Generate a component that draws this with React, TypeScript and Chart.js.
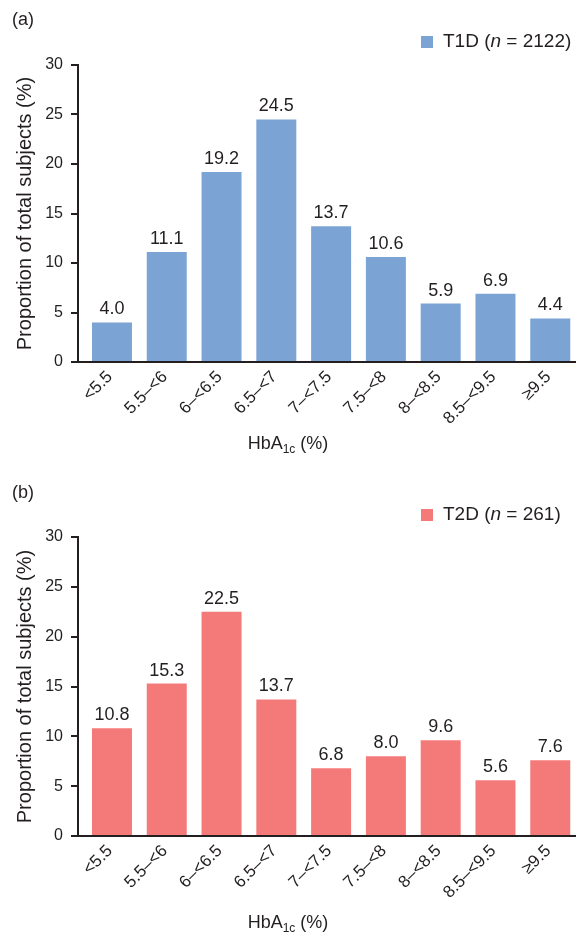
import React, { useEffect, useRef } from "react";
import { Chart, registerables } from "chart.js";

Chart.register(...registerables);

// ---- Data ----
const categories = ["<5.5", "5.5–<6", "6–<6.5", "6.5–<7", "7–<7.5", "7.5–<8", "8–<8.5", "8.5–<9.5", "≥9.5"];
const t1dValues = [4.0, 11.1, 19.2, 24.5, 13.7, 10.6, 5.9, 6.9, 4.4];
const t2dValues = [10.8, 15.3, 22.5, 13.7, 6.8, 8.0, 9.6, 5.6, 7.6];
const yTickValues = [0, 5, 10, 15, 20, 25, 30];
const t1dLegendParts = ["T1D (", "n", " = 2122)"];
const t2dLegendParts = ["T2D (", "n", " = 261)"];
const panelLetters = ["(a)", "(b)"];
const yAxisTitle = "Proportion of total subjects (%)";
const xAxisTitleParts = ["HbA", "1c", " (%)"];

// ---- Styles ----
const FONT = "'Liberation Sans', Arial, Helvetica, sans-serif";
const TEXT = "#231f20";
const BLUE = "#7ba4d4";
const RED = "#f47a7a";

const decorPlugin = {
  id: "decor",
  afterDraw(chart: any, _args: any, opts: any) {
    const { ctx, chartArea } = chart;
    ctx.save();
    ctx.fillStyle = TEXT;
    // value labels above bars
    ctx.font = `18px ${FONT}`;
    ctx.textAlign = "center";
    ctx.textBaseline = "alphabetic";
    const meta = chart.getDatasetMeta(0);
    const pts = chart.data.datasets[0].data as any[];
    meta.data.forEach((bar: any, i: number) => {
      ctx.fillText(Number(pts[i].y).toFixed(1), bar.x, bar.y - 8);
    });
    // panel letter
    ctx.textAlign = "left";
    ctx.textBaseline = "middle";
    ctx.font = `18px ${FONT}`;
    ctx.fillText(opts.letter, 12, 20);
    // legend
    ctx.fillStyle = opts.color;
    ctx.fillRect(421, 36, 12, 12);
    ctx.fillStyle = TEXT;
    let lx = 443;
    (opts.legendParts as string[]).forEach((p, i) => {
      ctx.font = `${i === 1 ? "italic " : ""}19px ${FONT}`;
      ctx.fillText(p, lx, 42);
      lx += ctx.measureText(p).width;
    });
    // x axis title with subscript
    const big = `18px ${FONT}`;
    const small = `12px ${FONT}`;
    const [a, sub, b] = xAxisTitleParts;
    ctx.font = big;
    const wa = ctx.measureText(a).width;
    const wb = ctx.measureText(b).width;
    ctx.font = small;
    const ws = ctx.measureText(sub).width;
    let tx = chart.width / 2 - (wa + ws + wb) / 2;
    const ty = chartArea.bottom + opts.titleOffset;
    ctx.textBaseline = "alphabetic";
    ctx.font = big;
    ctx.fillText(a, tx, ty);
    tx += wa;
    ctx.font = small;
    ctx.fillText(sub, tx, ty + 4);
    tx += ws;
    ctx.font = big;
    ctx.fillText(b, tx, ty);
    ctx.restore();
  },
};

type PanelProps = {
  values: number[];
  color: string;
  letter: string;
  legendParts: string[];
  height: number;
  padTop: number;
  xHeight: number;
  titleOffset: number;
};

function Panel(props: PanelProps) {
  const ref = useRef<HTMLCanvasElement>(null);
  useEffect(() => {
    const chart = new Chart(ref.current as HTMLCanvasElement, {
      type: "bar",
      data: {
        datasets: [
          {
            data: props.values.map((v, i) => ({ x: i, y: v })),
            backgroundColor: props.color,
            borderWidth: 0,
            categoryPercentage: 1,
            barPercentage: 0.73,
          } as any,
        ],
      },
      options: {
        animation: false,
        responsive: false,
        devicePixelRatio: 1,
        layout: { padding: { top: props.padTop, left: 11, right: 0, bottom: 0 } },
        plugins: {
          legend: { display: false },
          tooltip: { enabled: false },
          decor: {
            letter: props.letter,
            color: props.color,
            legendParts: props.legendParts,
            titleOffset: props.titleOffset,
          },
        } as any,
        scales: {
          x: {
            type: "linear",
            min: -0.62,
            max: 8.47,
            offset: false,
            grid: { display: false, drawTicks: false },
            border: { display: true, color: TEXT, width: 2 },
            ticks: {
              font: { size: 17, family: FONT },
              color: TEXT,
              minRotation: 45,
              maxRotation: 45,
              padding: 5,
              labelOffset: -2,
              autoSkip: false,
              callback: (v: any) => categories[v as number] ?? "",
            },
            afterBuildTicks: (s: any) => {
              s.ticks = categories.map((_, i) => ({ value: i }));
            },
            afterFit: (s: any) => {
              s.height = props.xHeight;
            },
          } as any,
          y: {
            min: 0,
            max: 30,
            grid: {
              drawOnChartArea: false,
              drawTicks: true,
              tickLength: 7,
              tickColor: TEXT,
              tickWidth: 2,
              color: TEXT,
              lineWidth: 2,
            },
            border: { display: true, color: TEXT, width: 2 },
            ticks: { font: { size: 16, family: FONT }, color: TEXT, padding: 8 },
            afterBuildTicks: (s: any) => {
              s.ticks = yTickValues.map((v) => ({ value: v }));
            },
            title: {
              display: true,
              text: yAxisTitle,
              font: { size: 20, family: FONT },
              color: TEXT,
              padding: { top: 2, bottom: 0 },
            },
            afterFit: (s: any) => {
              s.width = 67;
            },
          } as any,
        },
      },
      plugins: [decorPlugin],
    });
    return () => chart.destroy();
  }, []);
  return (
    <canvas
      ref={ref}
      width={576}
      height={props.height}
      style={{ display: "block", width: 576, height: props.height }}
    />
  );
}

export default function App() {
  return (
    <div style={{ position: "absolute", left: 0, top: 0, width: 576, height: 943, background: "#fff" }}>
      <Panel
        values={t1dValues}
        color={BLUE}
        letter={panelLetters[0]}
        legendParts={t1dLegendParts}
        height={473}
        padTop={65}
        xHeight={111}
        titleOffset={87}
      />
      <Panel
        values={t2dValues}
        color={RED}
        letter={panelLetters[1]}
        legendParts={t2dLegendParts}
        height={470}
        padTop={64}
        xHeight={107}
        titleOffset={92}
      />
    </div>
  );
}
